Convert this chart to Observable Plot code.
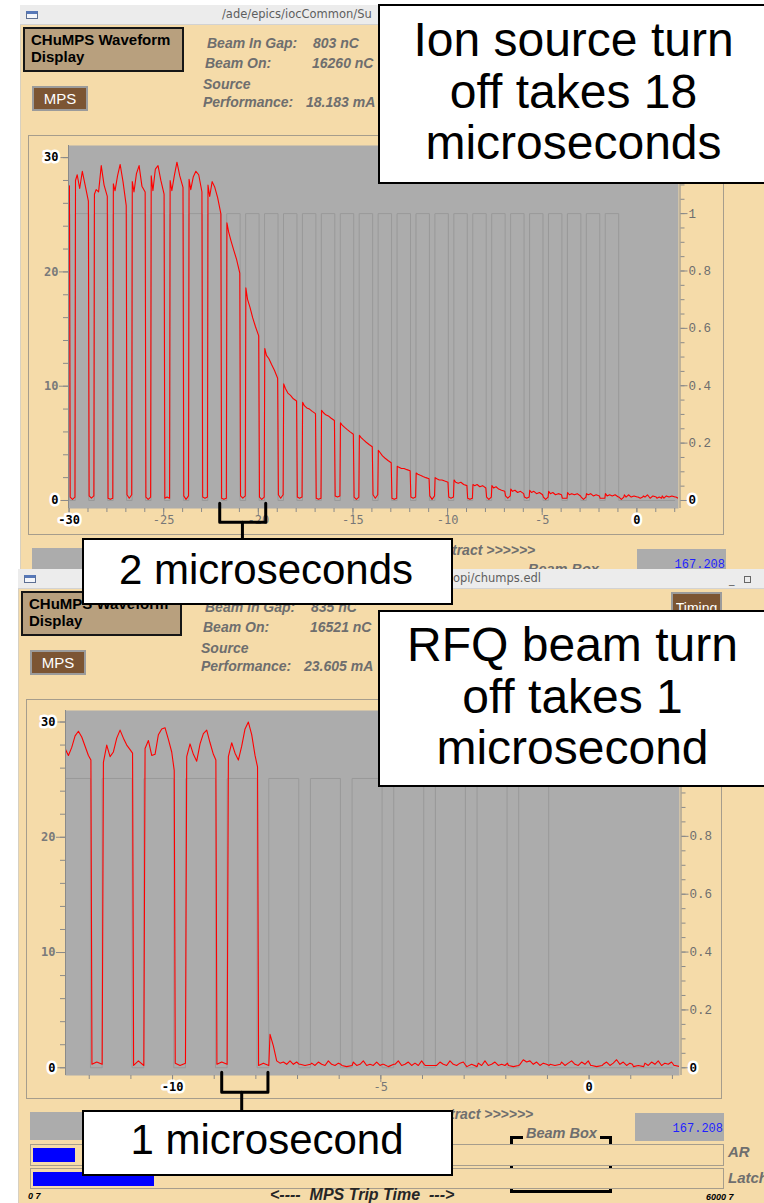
<!DOCTYPE html>
<html>
<head>
<meta charset="utf-8">
<script src="https://cdn.jsdelivr.net/npm/d3@7"></script>
<script src="https://cdn.jsdelivr.net/npm/@observablehq/plot@0.6"></script>
<style>
html,body{margin:0;padding:0;background:#fff}
body{position:relative;width:764px;height:1203px;overflow:hidden;font-family:"Liberation Sans",Arial,sans-serif}
.chart svg{display:block}
</style>
</head>
<body>
<script>
// ======================= DATA =======================
// right-hand axis: value 1 sits at 25.1 on the left-hand axis
const rightAxisFullScale = 25.1;

// ---------- top panel: ion source turn-off (time in µs) ----------
const topPulseStarts = [-31,-30,-29,-28,-27,-26,-25,-24,-23,-22,-21,-20,-19,-18,-17,-16,-15,-14,-13,-12,-11,-10,-9,-8,-7,-6,-5,-4,-3,-2,-1,0,1];
const topPulseOffsets = [0.34, 0.43, 0.56, 0.70, 0.85, 1.02];
const topGapOffsets = [1.06, 1.18, 1.31];
const topPulseLevels = [
  [27.0,27.2,27.6,28.0,27.8,27.5],
  [28.0,28.5,27.3,28.8,27.6,26.2],
  [26.8,27.2,27.0,29.3,27.6,26.6],
  [27.7,27.1,28.4,29.4,27.9,25.8],
  [27.9,27.0,28.6,29.3,27.5,27.0],
  [28.4,27.1,29.0,29.3,28.0,26.8],
  [28.0,27.1,28.4,29.6,28.4,27.4],
  [28.1,27.2,28.3,28.8,28.5,27.0],
  [27.6,26.6,27.9,27.4,26.5,25.1],
  [24.3,23.5,22.7,21.9,21.1,19.9],
  [18.6,17.6,16.9,16.0,15.2,14.4],
  [13.3,12.7,12.4,11.9,11.4,10.7],
  [10.2,9.8,9.4,9.2,8.9,8.7],
  [8.6,8.3,8.1,8.0,7.8,7.6],
  [7.9,7.7,7.5,7.4,7.2,7.0],
  [6.8,6.6,6.4,6.2,6.0,5.8],
  [5.7,5.5,5.3,5.1,4.9,4.7],
  [4.4,4.2,3.9,3.7,3.5,3.3],
  [3.0,2.9,2.8,2.8,2.7,2.6],
  [2.4,2.3,2.2,2.1,2.0,1.9],
  [2.0,1.9,1.8,1.8,1.7,1.6],
  [1.8,1.6,1.5,1.6,1.4,1.3],
  [1.4,1.3,1.4,1.2,1.3,1.1],
  [1.3,1.1,1.2,1.0,0.9,0.8],
  [1.0,0.8,0.9,0.7,0.8,0.6],
  [0.9,0.7,0.8,0.6,0.7,0.5],
  [0.8,0.6,0.7,0.5,0.6,0.5],
  [0.7,0.5,0.6,0.5,0.6,0.4],
  [0.6,0.5,0.6,0.4,0.5,0.4],
  [0.6,0.4,0.5,0.4,0.5,0.3],
  [0.5,0.3,0.5,0.3,0.4,0.3],
  [0.4,0.3,0.5,0.2,0.4,0.3],
  [0.4,0.2,0.4,0.3,0.4,0.3]
];
const topGapLevels = [
  [0.3,0.1],[0.4,0.2],[0.2,0.1],[0.5,0.2],[0.3,0.1],[0.2,0.3],[0.4,0.1],[0.3,0.2],
  [0.2,0.1],[0.4,0.2],[0.3,0.1],[0.5,0.2],[0.3,0.2],[0.2,0.1],[0.4,0.3],[0.3,0.1],
  [0.5,0.2],[0.2,0.1],[0.3,0.2],[0.4,0.1],[0.3,0.2],[0.2,0.1],[0.3,0.1],[0.4,0.2],
  [0.3,0.2],[0.3,0.1],[0.2,0.2],[0.3,0.1],[0.2,0.2],[0.3,0.1],[0.3,0.2],[0.2,0.3],[0.3,0.2]
];
const topGateStarts = [-31,-30,-29,-28,-27,-26,-25,-24,-23,-22,-21,-20,-19,-18,-17,-16,-15,-14,-13,-12,-11,-10,-9,-8,-7,-6,-5,-4,-3,-2];
const topGateEdges = [0.33, 1.04];
const topXDomain = [-30.03, 2.2];
const topYDomain = [-0.7, 31.06];
const topXTickLabels = [-30,-25,-20,-15,-10,-5,0];
const topXTickHighlight = [-30, 0];
const topBracket = {x1: -22.04, x2: -19.61, stem: -20.84, yTop: -0.25, yBottom: -1.9, yEnd: -3.6};

// ---------- bottom panel: RFQ beam turn-off (time in µs) ----------
const botPulseStarts = [-13,-12,-11,-10,-9,-8,-7,-6,-5,-4,-3,-2,-1,0,1];
const botPulseOffsets = [0.34,0.42,0.50,0.58,0.66,0.74,0.82,0.90,0.98,1.04];
const botGapOffsets = [1.065, 1.18, 1.31];
const botPulseLevels = [
  [27.7,27.7,27.1,27.8,28.8,29.2,28.7,27.9,27.1,26.7],
  [26.5,28.0,27.0,27.4,28.6,29.3,28.6,28.0,27.6,27.3],
  [27.7,28.4,27.1,27.2,28.9,29.4,29.5,28.5,27.4,25.8],
  [27.0,28.1,27.2,26.6,28.1,29.0,29.3,28.2,27.2,26.7],
  [27.0,28.2,27.3,26.7,27.9,29.4,30.0,28.9,27.1,26.1],
  [2.9,1.9,0.6,0.4,0.5,0.3,0.6,0.3,0.5,0.3],
  [0.4,0.2,0.5,0.3,0.2,0.6,0.3,0.2,0.4,0.3],
  [0.5,0.2,0.3,0.6,0.2,0.3,0.2,0.5,0.2,0.3],
  [0.3,0.6,0.2,0.3,0.5,0.2,0.4,0.2,0.6,0.3],
  [0.2,0.5,0.3,0.2,0.6,0.3,0.2,0.4,0.5,0.2],
  [0.4,0.2,0.6,0.2,0.3,0.5,0.2,0.3,0.2,0.4],
  [0.3,0.7,0.5,0.6,0.3,0.5,0.2,0.4,0.3,0.2],
  [0.5,0.2,0.4,0.6,0.3,0.2,0.5,0.3,0.6,0.2],
  [0.3,0.5,0.2,0.4,0.7,0.3,0.5,0.2,0.4,0.3],
  [0.4,0.2,0.5,0.3,0.6,0.2,0.4,0.3,0.5,0.2]
];
const botGapLevels = [
  [0.3,0.5],[0.2,0.6],[0.4,0.2],[0.3,0.5],[0.2,0.4],[0.3,0.2],[0.2,0.1],[0.3,0.1],
  [0.2,0.2],[0.1,0.3],[0.2,0.1],[0.3,0.2],[0.2,0.1],[0.1,0.2],[0.2,0.1]
];
const botGateStarts = [-13,-12,-11,-10,-9,-8,-7,-6,-5,-4,-3,-2];
const botGateEdges = [0.31, 1.03];
const botXDomain = [-12.57, 2.17];
const botYDomain = [-0.67, 31.0];
const botXTickLabels = [-10,-5,0];
const botXTickHighlight = [-10, 0];
const botBracket = {x1: -8.82, x2: -7.71, stem: -8.34, yTop: -0.38, yBottom: -2.12, yEnd: -4.0};

// ---------- shared axes ----------
const leftTickLabels = [0, 10, 20, 30];
const leftTickHighlight = [0, 30];
const rightTickLabels = [0, 0.2, 0.4, 0.6, 0.8, 1];
const rightTickHighlight = [0];

// ---------- window texts ----------
const topWindow = {title: "/ade/epics/iocCommon/Su", titleX: 222, gap: "803 nC", on: "16260 nC", perf: "18.183 mA"};
const botWindow = {title: "opi/chumps.edl", titleX: 455, gap: "835 nC", on: "16521 nC", perf: "23.605 mA"};
const note1Lines = ["Ion source turn", "off takes 18", "microseconds"];
const note2Lines = ["2 microseconds"];
const note3Lines = ["RFQ beam turn", "off takes 1", "microsecond"];
const note4Lines = ["1 microsecond"];

// ======================= STYLE =======================
const TAN = "#f5dba9";
const PLOT_GRAY = "#acacac";
const GATE_GRAY = "#999999";
const AXIS_GRAY = "#8a8a8a";
const LABEL_GRAY = "#6e6e6e";
const SANS = '"Liberation Sans", Arial, sans-serif';
const DEJAVU = '"DejaVu Sans", sans-serif';
const MONO = '"Liberation Mono", monospace';
const DJMONO = "DejaVu Sans Mono";

// ======================= HELPERS =======================
function add(tag, css, text) {
  const e = document.createElement(tag);
  e.style.cssText = "position:absolute;" + css;
  if (text != null) e.textContent = text;
  document.body.appendChild(e);
  return e;
}
function box(x, y, w, h, css) {
  return add("div", `left:${x}px;top:${y}px;width:${w}px;height:${h}px;box-sizing:border-box;${css || ""}`);
}
function label(x, bl, s, o = {}) {
  const size = o.size || 14, f = o.font || SANS, k = o.k || 0.85;
  const st = `${o.italic ? "italic " : ""}${o.bold ? "bold " : ""}${size}px/${size}px ${f}`;
  const tr = o.anchor === "end" ? "transform:translateX(-100%);" : o.anchor === "middle" ? "transform:translateX(-50%);" : "";
  return add("div", `left:${x}px;top:${(bl - k * size).toFixed(1)}px;font:${st};color:${o.color || "#000"};white-space:pre;${tr}${o.css || ""}`, s);
}

// full = false: the lower strip of the window is hidden behind the next window, so it is not drawn
function windowChrome(ox, oy, info, full) {
  box(20 + ox, 5 + oy, 744 - ox, (full ? 1198 : 564) - oy, `background:${TAN};border-left:1px solid #d8d0c0`);
  box(20 + ox, 5 + oy, 744 - ox, 20, "background:#ececec;border-bottom:1px solid #d2d2d2");
  box(26 + ox, 11 + oy, 12, 8, "border:1px solid #5d6f92;border-top:3px solid #5778b8;background:#f4f6fa");
  label(info.titleX + ox, 19 + oy, info.title, {size: 11.5, font: DEJAVU, color: "#5e5e5e"});
  box(23 + ox, 27 + oy, 161, 45, "background:#b8a07e;border:2px solid #161616");
  label(31 + ox, 45 + oy, "CHuMPS Waveform", {size: 15, bold: true});
  label(31 + ox, 62 + oy, "Display", {size: 15, bold: true});
  box(32 + ox, 86 + oy, 56, 25, "background:#7c5533;border:2px solid #9b9b9b");
  label(60 + ox, 104 + oy, "MPS", {size: 15, color: "#fff", anchor: "middle"});
  const g = {size: 14, bold: true, italic: true, color: LABEL_GRAY};
  label(207 + ox, 48 + oy, "Beam In Gap:", g); label(313 + ox, 48 + oy, info.gap, g);
  label(205 + ox, 68 + oy, "Beam On:", g); label(312 + ox, 68 + oy, info.on, g);
  label(203 + ox, 89 + oy, "Source", g);
  label(203 + ox, 107 + oy, "Performance:", g); label(306 + ox, 107 + oy, info.perf, g);
  box(28 + ox, 135 + oy, 696, 400, "border:1px solid #a69d8c");
  box(32 + ox, 548 + oy, 160, full ? 28 : 21, `background:${PLOT_GRAY}`);
  label(452 + ox, 555 + oy, "tract >>>>>>", g);
  box(637 + ox, 549 + oy, 89, full ? 28 : 20, `background:${PLOT_GRAY}`);
  label(725 + ox, 568 + oy, "167.208", {size: 12, font: MONO, color: "#1f1fff", anchor: "end", k: 0.77});
  if (!full) {
    // only the upper half of "Beam Box" shows above the next window
    const wrap = add("div", `left:${520 + ox}px;top:${560 + oy}px;width:90px;height:${569 - 560}px;overflow:hidden`);
    const t = document.createElement("div");
    t.textContent = "Beam Box";
    t.style.cssText = `position:absolute;left:8px;top:${574 - 0.85 * 14.5 - 560}px;font:italic bold 14.5px/14.5px ${SANS};color:${LABEL_GRAY};white-space:pre`;
    wrap.appendChild(t);
    return;
  }
  box(512 + ox, 572 + oy, 102, 57, "border:3px solid #000");
  label(525 + ox, 574 + oy, "Beam Box", {...g, size: 14.5, css: `background:${TAN};padding:0 3px`});
  box(32 + ox, 580 + oy, 694, 22, `border:1px solid #a69d8c;background:${TAN}`);
  box(35 + ox, 584 + oy, 42, 14, "background:#0000ff");
  label(730 + ox, 593 + oy, "AR", {...g, size: 15});
  box(32 + ox, 604 + oy, 694, 21, `border:1px solid #a69d8c;background:${TAN}`);
  box(35 + ox, 608 + oy, 121, 14, "background:#0000ff");
  label(730 + ox, 619 + oy, "Latch", {...g, size: 15});
  label(30 + ox, 636 + oy, "0 7", {size: 9, italic: true, bold: true});
  label(272 + ox, 637 + oy, "<----  MPS Trip Time  --->", {size: 16, italic: true, bold: true, color: "#262626"});
  label(708 + ox, 637 + oy, "6000 7", {size: 9, italic: true, bold: true});
}

function buildBeam(starts, levels, gaps, offsets, gapOffsets) {
  const rows = [];
  starts.forEach((m, i) => {
    levels[i].forEach((v, j) => rows.push({t: m + offsets[j], v}));
    const gp = gaps[i] || [0.2, 0.1];
    gapOffsets.forEach((o, j) => rows.push({t: m + o, v: gp[j % gp.length]}));
  });
  return rows;
}
function buildGate(starts, edges) {
  const rows = [];
  for (const m of starts) {
    rows.push({t: m + edges[0], g: 0}, {t: m + edges[0], g: 1}, {t: m + edges[1], g: 1}, {t: m + edges[1], g: 0});
  }
  rows.push({t: starts[starts.length - 1] + 4, g: 0});
  return rows;
}

function chart(cfg) {
  const [x0, x1] = cfg.xDomain;
  const rightMinor = d3.range(0, 1.201, 0.05).map(v => v * rightAxisFullScale);
  const rightMajor = rightTickLabels.map(v => v * rightAxisFullScale);
  const b = cfg.bracket;
  const leftNorm = leftTickLabels.filter(d => !leftTickHighlight.includes(d));
  const leftHi = leftTickLabels.filter(d => leftTickHighlight.includes(d));
  const rightNorm = rightTickLabels.filter(d => !rightTickHighlight.includes(d));
  const rightHi = rightTickLabels.filter(d => rightTickHighlight.includes(d));
  const xNorm = cfg.xLabels.filter(d => !cfg.xHi.includes(d));
  const xHi = cfg.xLabels.filter(d => cfg.xHi.includes(d));
  const hiStyle = {fill: "#000", stroke: "#fff", strokeWidth: 5, fontWeight: "bold"};
  const svg = Plot.plot({
    width: cfg.width, height: cfg.height,
    marginLeft: cfg.mL, marginRight: cfg.mR, marginTop: cfg.mT, marginBottom: cfg.mB,
    x: {domain: cfg.xDomain, axis: null, label: null},
    y: {domain: cfg.yDomain, axis: null, label: null},
    style: {background: "none", overflow: "visible"},
    marks: [
      Plot.frame({fill: PLOT_GRAY, stroke: "none"}),
      Plot.line(cfg.gate, {x: "t", y: d => d.g * rightAxisFullScale, stroke: GATE_GRAY, strokeWidth: 1, clip: true}),
      Plot.line(cfg.beam, {x: "t", y: "v", stroke: "#ff0000", strokeWidth: 1.1, clip: true}),
      Plot.ruleX([x0], {stroke: AXIS_GRAY}),
      Plot.ruleX([x1], {stroke: AXIS_GRAY, dx: 1.5}),
      Plot.axisY(d3.range(0, 31, 2), {anchor: "left", tickSize: 5, tickFormat: () => "", stroke: AXIS_GRAY, label: null}),
      Plot.axisY(leftTickLabels, {anchor: "left", tickSize: 9, tickFormat: () => "", stroke: AXIS_GRAY, label: null}),
      Plot.axisY(rightMinor, {anchor: "right", tickSize: 4, dx: 1.5, tickFormat: () => "", stroke: AXIS_GRAY, label: null}),
      Plot.axisY(rightMajor, {anchor: "right", tickSize: 7, dx: 1.5, tickFormat: () => "", stroke: AXIS_GRAY, label: null}),
      Plot.axisX(cfg.xMinor, {anchor: "bottom", tickSize: 4, tickFormat: () => "", stroke: AXIS_GRAY, label: null}),
      Plot.axisX(cfg.xLabels, {anchor: "bottom", tickSize: 7, tickFormat: () => "", stroke: AXIS_GRAY, label: null}),
      Plot.text(leftNorm, {y: d => d, text: d => String(d), frameAnchor: "left", dx: -10, textAnchor: "end", fill: "#7a7a7a", fontFamily: DJMONO, fontWeight: "bold", fontSize: 12}),
      Plot.text(leftHi, {y: d => d, text: d => String(d), frameAnchor: "left", dx: -10, textAnchor: "end", fontFamily: DJMONO, fontSize: 12, ...hiStyle}),
      Plot.text(rightNorm, {y: d => d * rightAxisFullScale, text: d => String(d), frameAnchor: "right", dx: 10, textAnchor: "start", fill: "#6e6e6e", fontFamily: "Liberation Mono", fontSize: 12.5}),
      Plot.text(rightHi, {y: d => d * rightAxisFullScale, text: d => String(d), frameAnchor: "right", dx: 10, textAnchor: "start", fontFamily: "Liberation Mono", fontSize: 12.5, ...hiStyle}),
      Plot.text(xNorm, {x: d => d, text: d => String(d), frameAnchor: "bottom", dy: 15, fill: "#777777", fontFamily: DJMONO, fontSize: 12}),
      Plot.text(xHi, {x: d => d, text: d => String(d), frameAnchor: "bottom", dy: 15, fontFamily: DJMONO, fontSize: 12, ...hiStyle}),
      // annotation bracket
      Plot.line([[b.x1, b.yTop], [b.x1, b.yBottom], [b.x2, b.yBottom], [b.x2, b.yTop]], {stroke: "#000", strokeWidth: 3, strokeLinejoin: "round"}),
      Plot.line([[b.stem, b.yBottom], [b.stem, b.yEnd]], {stroke: "#000", strokeWidth: 3})
    ]
  });
  const holder = add("div", `left:${cfg.left}px;top:${cfg.top}px;width:${cfg.width}px;height:${cfg.height}px`);
  holder.className = "chart";
  holder.appendChild(svg);
}

function note(x, y, w, h, lines, size, baselines, cx) {
  box(x, y, w, h, "background:#fff;border:2px solid #000");
  lines.forEach((s, i) => label(cx, baselines[i], s, {size, anchor: "middle", color: "#000"}));
}

// ======================= BUILD =======================
windowChrome(0, 0, topWindow, false);
chart({
  left: 28, top: 135, width: 696, height: 400, mL: 40, mR: 46, mT: 10, mB: 27,
  xDomain: topXDomain, yDomain: topYDomain,
  beam: buildBeam(topPulseStarts, topPulseLevels, topGapLevels, topPulseOffsets, topGapOffsets),
  gate: buildGate(topGateStarts, topGateEdges),
  xMinor: d3.range(-30, 3, 1), xLabels: topXTickLabels, xHi: topXTickHighlight,
  bracket: topBracket
});

windowChrome(-2, 564, botWindow, true);
// Timing button and window controls of the lower window
box(671, 592, 51, 18, "background:#7c5533;border:2px solid #9b9b9b;border-bottom:none");
label(696.5, 613, "Timing", {size: 14, color: "#fff", anchor: "middle", css: "clip-path:inset(0 0 4px 0)"});
label(729, 583, "_", {size: 11, font: DEJAVU, color: "#555"});
box(744, 576, 7, 7, "border:1px solid #666");
chart({
  left: 26, top: 700, width: 698, height: 400, mL: 39, mR: 45, mT: 10, mB: 25,
  xDomain: botXDomain, yDomain: botYDomain,
  beam: buildBeam(botPulseStarts, botPulseLevels, botGapLevels, botPulseOffsets, botGapOffsets),
  gate: buildGate(botGateStarts, botGateEdges),
  xMinor: d3.range(-12, 3, 1), xLabels: botXTickLabels, xHi: botXTickHighlight,
  bracket: botBracket
});

// annotation call-outs
note(378, 4, 392, 180, note1Lines, 48, [57, 108.5, 160], 573.5);
note(82, 538, 371, 67, note2Lines, 42, [585], 266);
note(378, 610, 392, 177, note3Lines, 48, [662, 713.5, 765], 572.5);
note(82, 1110, 371, 66, note4Lines, 42, [1155], 267);
</script>
</body>
</html>
